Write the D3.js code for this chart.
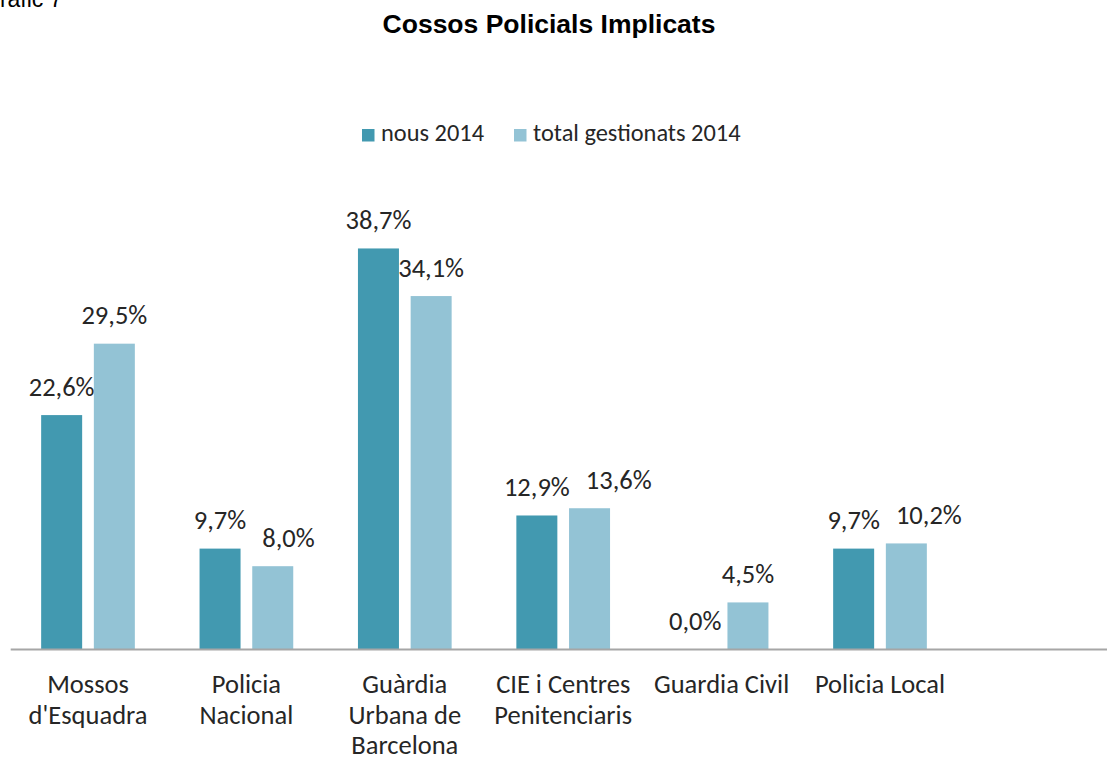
<!DOCTYPE html>
<html><head><meta charset="utf-8">
<script src="https://cdn.jsdelivr.net/npm/d3@7"></script>
<style>
html,body{margin:0;padding:0;background:#fff;}
svg{display:block;}
</style></head>
<body>
<svg id="chart" width="1107" height="760"></svg>
<script>
const categories = ["Mossos d'Esquadra","Policia Nacional","Guàrdia Urbana de Barcelona","CIE i Centres Penitenciaris","Guardia Civil","Policia Local"];
const categoryLines = [["Mossos","d'Esquadra"],["Policia","Nacional"],["Guàrdia","Urbana de","Barcelona"],["CIE i Centres","Penitenciaris"],["Guardia Civil"],["Policia Local"]];
const seriesNames = ["nous 2014","total gestionats 2014"];
const nous2014 = [22.6, 9.7, 38.7, 12.9, 0.0, 9.7];
const totalGestionats2014 = [29.5, 8.0, 34.1, 13.6, 4.5, 10.2];
const title = "Cossos Policials Implicats";
const caption = "Gràfic 7";

const colors = ["#4299b0","#93c3d5"];
const labelFont = "Calibri, Carlito, Lato, sans-serif";
const svg = d3.select("#chart");

const step = 158.4, x0 = 8.8;
const x = d3.scaleBand().domain(categories).range([x0, x0 + step*categories.length]).padding(0);
const xs = d3.scaleBand().domain(seriesNames).range([0, x.bandwidth()]).paddingInner(0.222).paddingOuter(0.614);
const y = d3.scaleLinear().domain([0, 40]).range([649, 649 - 414]);

const series = [nous2014, totalGestionats2014];

// caption (cut at top, as in the reference)
svg.append("text").attr("x", -18).attr("y", 7).attr("font-family","Liberation Sans, Arial, sans-serif")
  .attr("font-size", 23).attr("fill","#000").text(caption);

// title
svg.append("text").attr("x", 549).attr("y", 33).attr("text-anchor","middle")
  .attr("font-family","Liberation Sans, Arial, sans-serif").attr("font-weight","bold")
  .attr("font-size", 26.5).attr("fill","#000").text(title);

// legend
const legendPos = [362, 514];
seriesNames.forEach((s,i)=>{
  const g = svg.append("g").attr("transform",`translate(${legendPos[i]},0)`);
  g.append("rect").attr("x",0).attr("y",129).attr("width",12.5).attr("height",12.5).attr("fill",colors[i]);
  g.append("text").attr("x",19).attr("y",141).attr("font-family",labelFont).attr("font-size",24.4)
    .attr("fill","#262626").text(s);
});

// bars
const labelSel = [];
series.forEach((vals,si)=>{
  const g = svg.append("g");
  g.selectAll("rect").data(vals).join("rect")
    .attr("x",(d,i)=>x(categories[i]) + xs(seriesNames[si]))
    .attr("width", xs.bandwidth())
    .attr("y", d=>y(d))
    .attr("height", d=>y(0)-y(d))
    .attr("fill", colors[si]);
  labelSel.push(g.selectAll("text").data(vals).join("text")
    .attr("x",(d,i)=>x(categories[i]) + xs(seriesNames[si]) + xs.bandwidth()/2)
    .attr("y", d=>y(d) - 19.5)
    .attr("text-anchor","middle")
    .attr("font-family",labelFont).attr("font-size",26.5).attr("fill","#262626")
    .text(d=>d.toFixed(1).replace(".",",") + "%"));
});

// nudge second-series labels to the right when they collide with the first-series label
const darkNodes = labelSel[0].nodes(), lightNodes = labelSel[1].nodes();
const minGap = 16;
lightNodes.forEach((ln,i)=>{
  const a = darkNodes[i].getBBox(), b = ln.getBBox();
  const vOverlap = !(b.y + b.height < a.y || a.y + a.height < b.y);
  const need = (a.x + a.width + minGap) - b.x;
  if (vOverlap && need > 0) {
    ln.setAttribute("x", +ln.getAttribute("x") + need);
  }
});

// axis
const axis = d3.axisBottom(x).tickSize(0).tickFormat("");
const ag = svg.append("g").attr("transform",`translate(0,${y(0)+0.5})`).call(axis);
ag.select(".domain").attr("d","M10.7,0H1107").attr("stroke","#a6a6a6").attr("stroke-width",2);

// category labels
categories.forEach((c,i)=>{
  const t = svg.append("text").attr("text-anchor","middle")
    .attr("font-family",labelFont).attr("font-size",26.5).attr("fill","#262626");
  categoryLines[i].forEach((ln,j)=>{
    t.append("tspan").attr("x", x(c) + x.bandwidth()/2).attr("y", 693 + j*30.7).text(ln);
  });
});
</script>
</body></html>
